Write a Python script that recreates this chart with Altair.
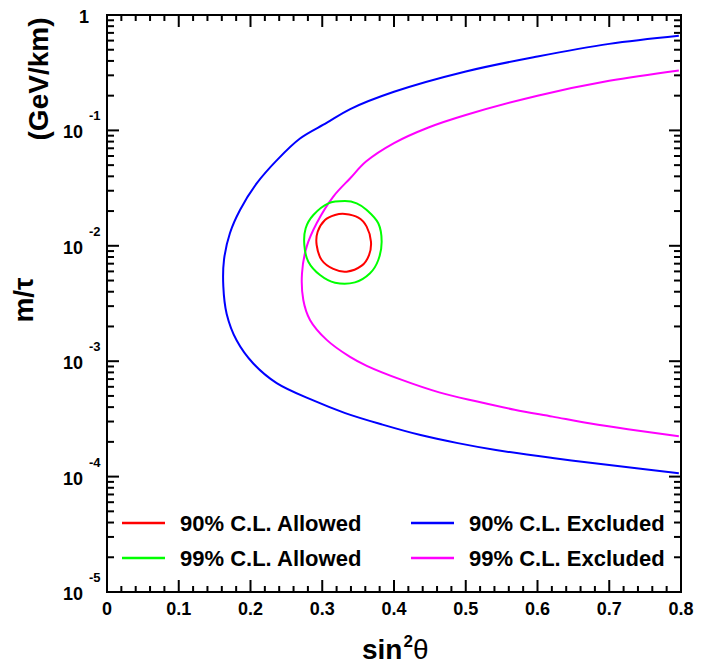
import altair as alt
import pandas as pd

# ---------------- data ----------------
# 90% C.L. excluded contour (blue), traced from upper-right end to lower-right end
blue_x = [0.797, 0.7, 0.6, 0.5, 0.4, 0.339, 0.306, 0.269, 0.2365, 0.2086, 0.1854,
          0.1714, 0.1631, 0.1621, 0.1668, 0.1808, 0.2039, 0.2365, 0.2875, 0.332,
          0.384, 0.437, 0.489, 0.542, 0.621, 0.7, 0.797]
blue_y = [0.661, 0.562, 0.437, 0.324, 0.216, 0.153, 0.116, 0.0851, 0.0550, 0.0347,
          0.0204, 0.0129, 0.00759, 0.00447, 0.00257, 0.00151, 0.000955, 0.000646,
          0.000457, 0.000355, 0.000282, 0.000229, 0.000195, 0.000170, 0.000145,
          0.000126, 0.000107]

# 99% C.L. excluded contour (magenta)
magenta_x = [0.797, 0.7, 0.6, 0.5, 0.448, 0.4, 0.361, 0.339, 0.3154, 0.2922, 0.2783,
             0.2718, 0.2736, 0.2829, 0.3062, 0.3387, 0.362, 0.41, 0.463, 0.516, 0.568,
             0.621, 0.674, 0.726, 0.797]
magenta_y = [0.331, 0.269, 0.200, 0.136, 0.106, 0.0776, 0.0537, 0.0385, 0.0267,
             0.01567, 0.00984, 0.00578, 0.00339, 0.00228, 0.00153, 0.00109, 0.000912,
             0.000692, 0.000537, 0.000447, 0.000380, 0.000331, 0.000288, 0.000257,
             0.000224]

# 99% C.L. allowed region (green closed contour)
green_x = [0.3317, 0.348, 0.362, 0.3781, 0.3828, 0.3781, 0.3666, 0.3456, 0.3178,
           0.2969, 0.2806, 0.275, 0.2769, 0.2876, 0.3085]
green_y = [0.02443, 0.02333, 0.02042, 0.01567, 0.01086, 0.00753, 0.00578, 0.00482,
           0.00479, 0.00558, 0.00728, 0.01016, 0.01419, 0.01849, 0.02333]

# 90% C.L. allowed region (red closed contour)
red_x = [0.3317, 0.3503, 0.3619, 0.3679, 0.3652, 0.355, 0.334, 0.3154, 0.2992,
         0.2922, 0.2936, 0.3038, 0.3178]
red_y = [0.01888, 0.01754, 0.01466, 0.01086, 0.00832, 0.00673, 0.00597, 0.00630,
         0.00753, 0.01016, 0.01324, 0.01675, 0.01849]

series_names = ["90% C.L. Allowed", "99% C.L. Allowed", "90% C.L. Excluded", "99% C.L. Excluded"]
series_colors = ["#ff0000", "#00ff00", "#0000ff", "#ff00ff"]

# axis ticks / labels
x_major = [0.0, 0.1, 0.2, 0.3, 0.4, 0.5, 0.6, 0.7, 0.8]
x_labels = ["0", "0.1", "0.2", "0.3", "0.4", "0.5", "0.6", "0.7", "0.8"]
x_minor = [0.02, 0.04, 0.06, 0.08, 0.12, 0.14, 0.16, 0.18, 0.22, 0.24, 0.26, 0.28,
           0.32, 0.34, 0.36, 0.38, 0.42, 0.44, 0.46, 0.48, 0.52, 0.54, 0.56, 0.58,
           0.62, 0.64, 0.66, 0.68, 0.72, 0.74, 0.76, 0.78]
y_major = [1.0, 1e-1, 1e-2, 1e-3, 1e-4, 1e-5]
y_base = ["1", "10", "10", "10", "10", "10"]
y_exp = ["", "-1", "-2", "-3", "-4", "-5"]
y_minor = [m * d for d in [1e-5, 1e-4, 1e-3, 1e-2, 1e-1] for m in range(2, 10)]

x_title = ["sin", "2", "\u03b8"]
y_title = ["m/\u03c4", "(GeV/km)"]

# ---------------- chart ----------------
W, H = 574, 577
XMIN, XMAX, YMIN, YMAX = 0.0, 0.8, 1e-5, 1.0
FONT = "Liberation Sans"
xs = alt.Scale(domain=[XMIN, XMAX], nice=False, zero=False)
ys = alt.Scale(type="log", domain=[YMIN, YMAX], nice=False)
X = lambda: alt.X("x:Q", scale=xs, axis=None)
Y = lambda: alt.Y("y:Q", scale=ys, axis=None)


def path(xv, yv):
    return pd.DataFrame({"x": xv, "y": yv, "i": list(range(len(xv)))})


def curve(df, color, interp):
    return alt.Chart(df).mark_line(color=color, strokeWidth=2, interpolate=interp).encode(
        x=X(), y=Y(), order="i:Q")


# inward frame ticks as short two-point segments in data space (lengths given in pixels)
seg = {"x": [], "y": [], "k": [], "p": []}


def add_seg(x0, y0, x1, y1):
    k = len(seg["k"]) // 2
    for p, (xx, yy) in enumerate([(x0, y0), (x1, y1)]):
        seg["x"].append(xx)
        seg["y"].append(yy)
        seg["k"].append(k)
        seg["p"].append(p)


px_per_decade = H / 5.0
for vals, L in [(x_major, 12), (x_minor, 6)]:
    f = 10 ** (L / px_per_decade)
    for v in vals:
        add_seg(v, YMIN, v, YMIN * f)
        add_seg(v, YMAX, v, YMAX / f)
for vals, L in [(y_major, 12), (y_minor, 7)]:
    dx = L * (XMAX - XMIN) / W
    for v in vals:
        add_seg(XMIN, v, XMIN + dx, v)
        add_seg(XMAX, v, XMAX - dx, v)
ticks_df = pd.DataFrame(seg)

layers = []
layers.append(curve(path(blue_x, blue_y), series_colors[2], "catmull-rom"))
layers.append(curve(path(magenta_x, magenta_y), series_colors[3], "catmull-rom"))
layers.append(curve(path(green_x, green_y), series_colors[1], "cardinal-closed"))
layers.append(curve(path(red_x, red_y), series_colors[0], "cardinal-closed"))
layers.append(alt.Chart(ticks_df).mark_line(color="black", strokeWidth=2).encode(
    x=X(), y=Y(), detail="k:N", order="p:Q"))

# x tick labels
xl = pd.DataFrame({"x": x_major, "label": x_labels})
layers.append(alt.Chart(xl).mark_text(font=FONT, fontSize=18, fontWeight="bold",
                                      align="center", baseline="alphabetic").encode(
    x=X(), y=alt.value(H + 23), text="label:N"))

# y tick labels: 10 with superscript exponent
ylab = pd.DataFrame({"y": y_major, "base": y_base, "exp": y_exp})
layers.append(alt.Chart(ylab).transform_filter("datum.exp != ''").mark_text(
    font=FONT, fontSize=18, fontWeight="bold", align="right", baseline="alphabetic", dy=8).encode(
    x=alt.value(-24), y=Y(), text="base:N"))
layers.append(alt.Chart(ylab).transform_filter("datum.exp == ''").mark_text(
    font=FONT, fontSize=18, fontWeight="bold", align="right", baseline="alphabetic", dy=8).encode(
    x=alt.value(-18), y=Y(), text="base:N"))
layers.append(alt.Chart(ylab).transform_filter("datum.exp != ''").mark_text(
    font=FONT, fontSize=13, fontWeight="bold", align="left", baseline="alphabetic", dy=-10).encode(
    x=alt.value(-18), y=Y(), text="exp:N"))

# axis titles
t = lambda s: pd.DataFrame({"t": [s]})
layers.append(alt.Chart(t(x_title[0])).mark_text(font=FONT, fontSize=28, fontWeight="bold",
                                                 align="left", baseline="alphabetic").encode(
    x=alt.value(255), y=alt.value(644), text="t:N"))
layers.append(alt.Chart(t(x_title[1])).mark_text(font=FONT, fontSize=17, fontWeight="bold",
                                                 align="left", baseline="alphabetic").encode(
    x=alt.value(296.5), y=alt.value(632), text="t:N"))
layers.append(alt.Chart(t(x_title[2])).mark_text(font=FONT, fontSize=28, fontWeight="normal",
                                                 align="left", baseline="alphabetic").encode(
    x=alt.value(306), y=alt.value(644), text="t:N"))
layers.append(alt.Chart(t(y_title[0])).mark_text(font=FONT, fontSize=28, fontWeight="bold",
                                                 align="center", baseline="alphabetic", angle=270).encode(
    x=alt.value(-74), y=alt.value(285), text="t:N"))
layers.append(alt.Chart(t(y_title[1])).mark_text(font=FONT, fontSize=28, fontWeight="bold",
                                                 align="center", baseline="alphabetic", angle=270).encode(
    x=alt.value(-59), y=alt.value(64), text="t:N"))

# legend (drawn inside the frame)
leg_pos = [(15, 508), (15, 543), (304, 508), (304, 543)]
for name, color, (lx, ly) in zip(series_names, series_colors, leg_pos):
    layers.append(alt.Chart(t(name)).mark_rule(color=color, strokeWidth=2.5).encode(
        x=alt.value(lx), x2=alt.value(lx + 43), y=alt.value(ly)))
    layers.append(alt.Chart(t(name)).mark_text(font=FONT, fontSize=22, fontWeight="bold",
                                               align="left", baseline="alphabetic").encode(
        x=alt.value(lx + 58), y=alt.value(ly + 8), text="t:N"))

chart = alt.layer(*layers).properties(
    width=W, height=H,
    autosize=alt.AutoSizeParams(type="none"),
    padding={"left": 99, "top": 7, "right": 13, "bottom": 80},
).configure_view(stroke="black", strokeWidth=2)

chart.save("out.html", embed_options={"renderer": "svg", "actions": False})
